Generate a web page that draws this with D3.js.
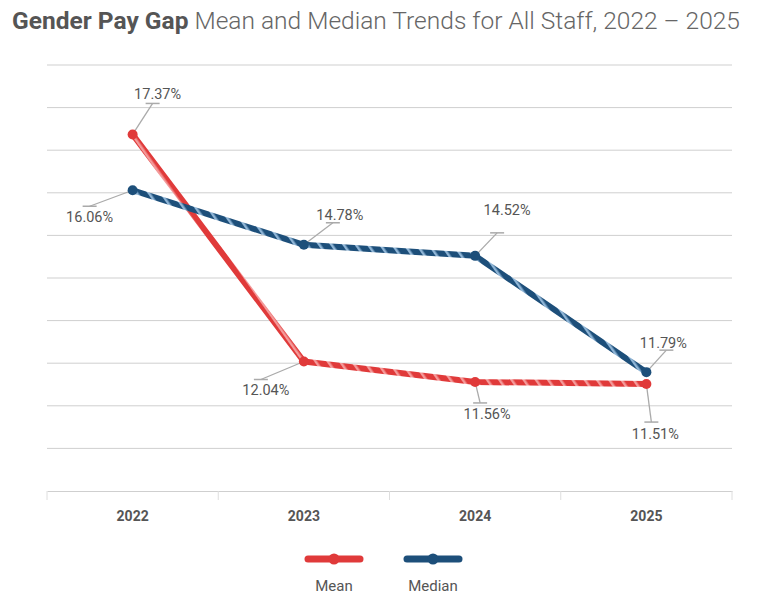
<!DOCTYPE html>
<html>
<head>
<meta charset="utf-8">
<script src="https://cdn.jsdelivr.net/npm/d3@7"></script>
<style>
body{margin:0;background:#fff;}
text{font-family:Roboto,"Noto Sans",sans-serif;}
</style>
</head>
<body>
<svg id="chart"></svg>
<script>
// values
var years = ["2022","2023","2024","2025"]
var meanGap = [17.37,12.04,11.56,11.51]
var medianGap = [16.06,14.78,14.52,11.79]
var seriesNames = ["Mean","Median"]
var seriesColors = ["#e03a3a","#1d4f7a"]
var stripeColors = ["#f49a9a","#8fb5d6"]

// label leader offsets from each point: elbow x,y then text x,y
var meanLabelPos = [[20,-31,25,-35],[-43,18,-38,34],[5,21,12,37],[5,38,9,55]]
var medianLabelPos = [[-43,16,-43,32],[29,-22,36,-25],[22,-23,32,-41],[20,-22,17,-24]]

var width = 763, height = 598
var svg = d3.select("#chart").attr("width",width).attr("height",height)

var x = d3.scaleBand().domain(years).range([47,732])
var y = d3.scaleLinear().domain([9,19]).range([491,65])

// title
var title = svg.append("text").attr("x",12).attr("y",29).attr("font-size","23.5px")
title.append("tspan").attr("font-weight","bold").attr("fill","#555").text("Gender Pay Gap")
title.append("tspan").attr("font-weight","300").attr("fill","#666").text(" Mean and Median Trends for All Staff, 2022 \u2013 2025")
var tl = title.node().getComputedTextLength()
title.attr("textLength",728).attr("lengthAdjust","spacingAndGlyphs")

// gridlines
svg.append("g")
   .selectAll("line")
   .data(y.ticks(10).filter(d=>d>9))
   .enter().append("line")
   .attr("x1",47).attr("x2",732)
   .attr("y1",d=>y(d)).attr("y2",d=>y(d))
   .attr("stroke","#cfcfcf").attr("stroke-width",1)

// x axis
var xAxis = svg.append("g")
   .attr("transform","translate(0,491)")
   .call(d3.axisBottom(x).tickSize(0).tickPadding(20))
xAxis.select(".domain").attr("stroke","#cfcfcf")
xAxis.selectAll("text").attr("font-size","14px").attr("font-weight","bold").attr("fill","#555")
xAxis.selectAll(".bound")
   .data(d3.range(years.length+1))
   .enter().append("line")
   .attr("x1",d=>47+d*x.bandwidth()).attr("x2",d=>47+d*x.bandwidth())
   .attr("y1",0).attr("y2",9)
   .attr("stroke","#dedede")

// stripe patterns
var defs = svg.append("defs")
seriesNames.forEach(function(n,i){
  var p = defs.append("pattern")
     .attr("id","stripe"+i)
     .attr("patternUnits","userSpaceOnUse")
     .attr("width",10).attr("height",10)
     .attr("patternTransform","rotate(-35)")
  p.append("rect").attr("width",10).attr("height",10).attr("fill",seriesColors[i])
  p.append("rect").attr("width",2.5).attr("height",10).attr("fill",stripeColors[i])
})

var series = [meanGap, medianGap]
var labelPos = [meanLabelPos, medianLabelPos]
var line = d3.line()
   .x((d,i)=>x(years[i])+x.bandwidth()/2)
   .y(d=>y(d))

// leaders and labels first so lines sit on top
series.forEach(function(vals,s){
  var g = svg.append("g").classed("labels",true)
  vals.forEach(function(v,i){
    var px = x(years[i])+x.bandwidth()/2, py = y(v)
    var o = labelPos[s][i]
    g.append("polyline")
     .attr("points",[[px,py],[px+o[0],py+o[1]]].join(" "))
     .attr("fill","none").attr("stroke","#aaa").attr("stroke-width",1.3)
    g.append("line")
     .attr("x1",px+o[0]-7).attr("x2",px+o[0]+7)
     .attr("y1",py+o[1]).attr("y2",py+o[1])
     .attr("stroke","#aaa").attr("stroke-width",1.5)
    g.append("text")
     .attr("x",px+o[2]).attr("y",py+o[3])
     .attr("text-anchor","middle")
     .attr("font-size","14.5px").attr("fill","#555")
     .text(v.toFixed(2)+"%")
  })
})

series.forEach(function(vals,s){
  svg.append("path")
     .datum(vals)
     .attr("d",line)
     .attr("fill","none")
     .attr("stroke","url(#stripe"+s+")")
     .attr("stroke-width",6)
     .attr("stroke-linejoin","round")
     .attr("stroke-linecap","round")
  svg.append("g")
     .selectAll("circle")
     .data(vals)
     .enter().append("circle")
     .attr("cx",(d,i)=>x(years[i])+x.bandwidth()/2)
     .attr("cy",d=>y(d))
     .attr("r",5)
     .attr("fill",seriesColors[s])
})

// legend
var legend = svg.append("g")
   .selectAll("g")
   .data(seriesNames)
   .enter().append("g")
   .attr("transform",(d,i)=>`translate(${334+i*99},559)`)
legend.append("line")
   .attr("x1",-26).attr("x2",26)
   .attr("stroke",(d,i)=>seriesColors[i])
   .attr("stroke-width",7).attr("stroke-linecap","round")
legend.append("circle").attr("r",5.5).attr("fill",(d,i)=>seriesColors[i])
legend.append("text")
   .attr("y",32).attr("text-anchor","middle")
   .attr("font-size","15px").attr("fill","#555")
   .text(d=>d)
</script>
</body>
</html>
